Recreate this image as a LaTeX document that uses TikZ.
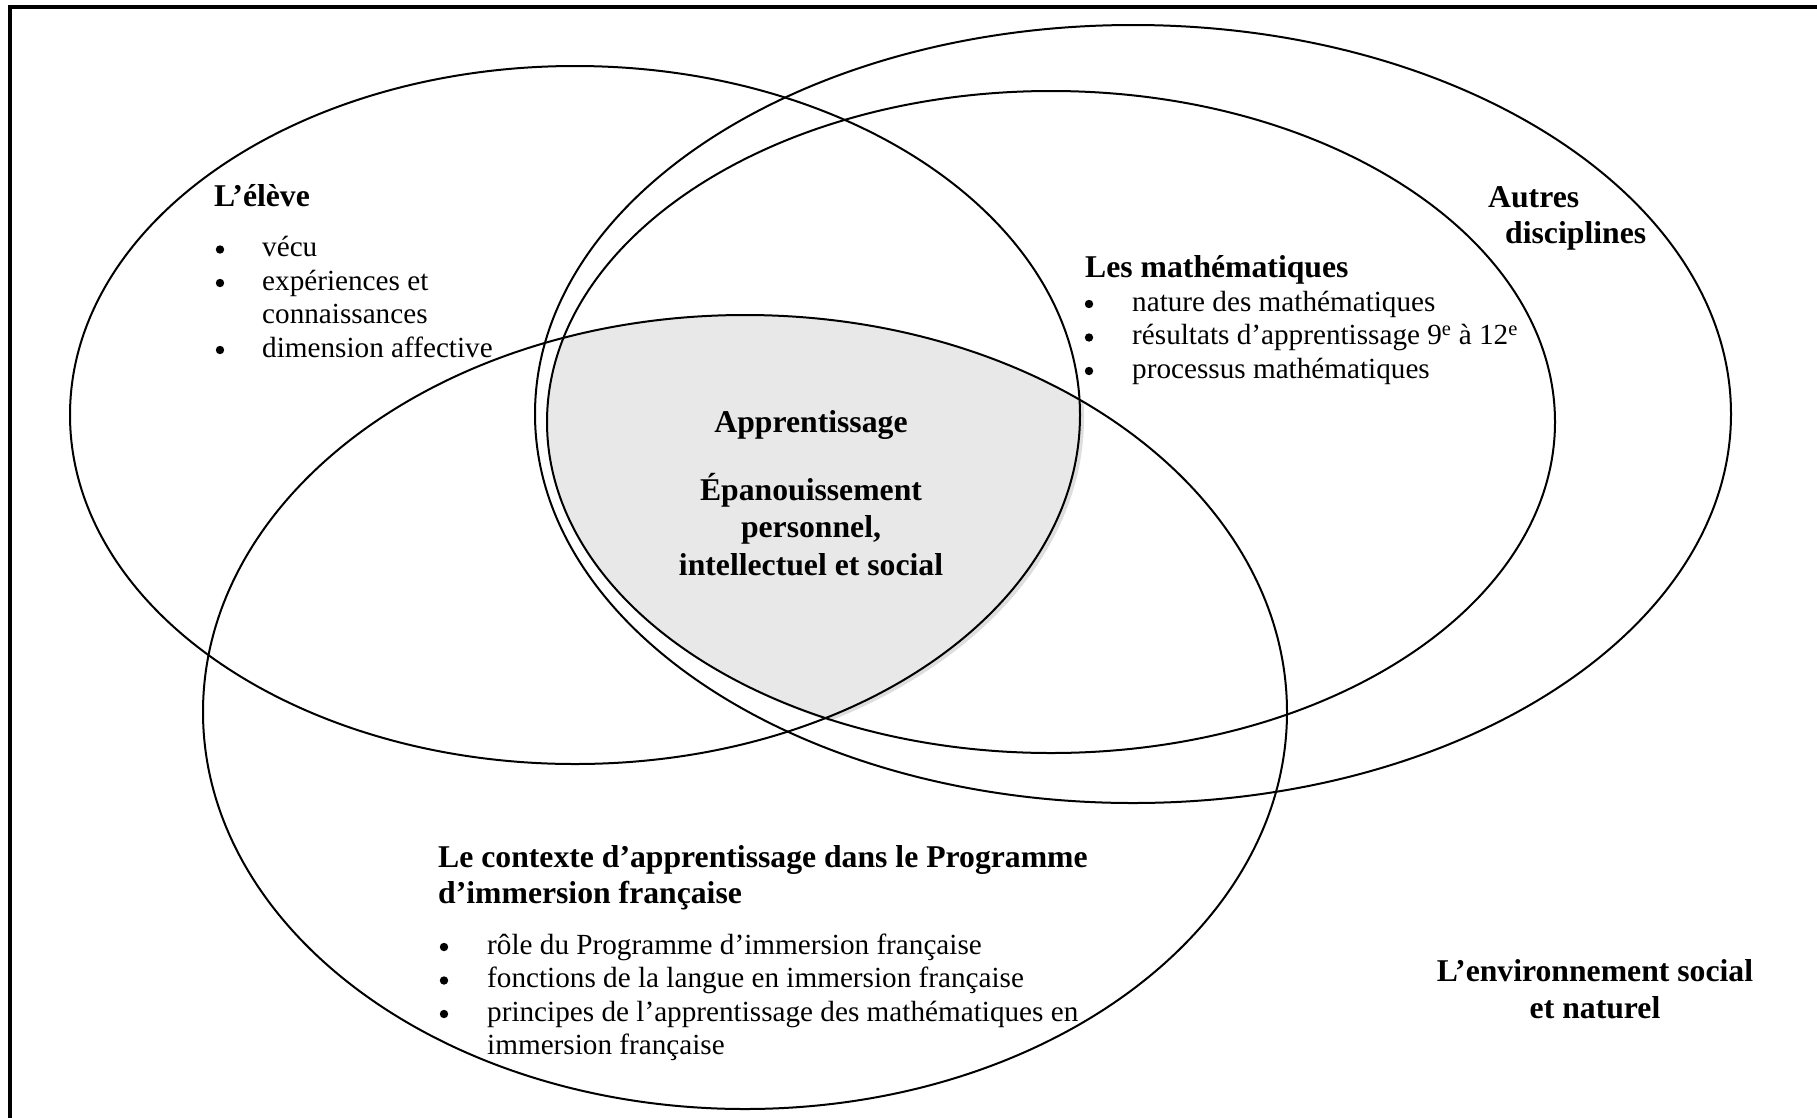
\documentclass[tikz,border=0pt]{standalone}
\usepackage{fontspec}
\setmainfont{Liberation Serif}
\begin{document}
\begin{tikzpicture}[x=1pt,y=-1pt,
  ell/.style={line width=2pt},
  body/.style={inner sep=0pt, font=\fontsize{29.2}{33.6}\selectfont, anchor=base west},
  head/.style={inner sep=0pt, font=\fontsize{31.7}{36.5}\selectfont\bfseries, anchor=base west},
  headc/.style={inner sep=0pt, font=\fontsize{31.7}{36.5}\selectfont\bfseries, anchor=base},
  bul/.style={circle, fill=black, inner sep=0pt, minimum size=8.4pt, yshift=7pt},
]
\useasboundingbox (0,0) rectangle (1817,1117);
\clip (0,0) rectangle (1817,1117);
% frame
\draw[line width=4pt] (10,7) rectangle (1900,1200);
% shaded core (shadow then fill)
\begin{scope}[shift={(4,3)}]
  \clip (575,415) ellipse [x radius=505, y radius=349];
  \clip (1051,422) ellipse [x radius=504, y radius=331];
  \fill[black!13] (745,712) ellipse [x radius=542, y radius=397];
\end{scope}
\begin{scope}
  \clip (575,415) ellipse [x radius=505, y radius=349];
  \clip (1051,422) ellipse [x radius=504, y radius=331];
  \fill[black!9] (745,712) ellipse [x radius=542, y radius=397];
\end{scope}
% ellipses
\draw[ell] (575,415) ellipse [x radius=505, y radius=349];
\draw[ell] (1051,422) ellipse [x radius=504, y radius=331];
\draw[ell] (1133,414) ellipse [x radius=598, y radius=389];
\draw[ell] (745,712) ellipse [x radius=542, y radius=397];

% L'eleve
\node[head] (eleve) at (214,206) {L’élève};
\node[bul] (eb1) at (220,256.5) {};
\node[body] (et1) at (262,256.5) {vécu};
\node[bul] (eb2) at (220,290) {};
\node[body] (et2) at (262,290) {expériences et};
\node[body] (et3) at (262,323.5) {connaissances};
\node[bul] (eb4) at (220,357) {};
\node[body] (et4) at (262,357) {dimension affective};

% Mathematiques
\node[head] (math) at (1085,277) {Les mathématiques};
\node[bul] (mb1) at (1089,311) {};
\node[body] (mt1) at (1132,311) {nature des mathématiques};
\node[bul] (mb2) at (1089,344.5) {};
\node[body] (mt2) at (1132,344.5) {résultats d’apprentissage 9\textsuperscript{e} à 12\textsuperscript{e}};
\node[bul] (mb3) at (1089,378) {};
\node[body] (mt3) at (1132,378) {processus mathématiques};

% Autres disciplines
\node[head] (autres1) at (1488,207) {Autres};
\node[head] (autres2) at (1505,243) {disciplines};

% centre
\node[headc] (app) at (811,432) {Apprentissage};
\node[headc] (epa1) at (811,500) {Épanouissement};
\node[headc] (epa2) at (811,537.5) {personnel,};
\node[headc] (epa3) at (811,575) {intellectuel et social};

% Contexte
\node[head] (ctx1) at (438,867) {Le contexte d’apprentissage dans le Programme};
\node[head] (ctx2) at (438,903) {d’immersion française};
\node[bul] (cb1) at (444,954) {};
\node[body] (ct1) at (487,954) {rôle du Programme d’immersion française};
\node[bul] (cb2) at (444,987.5) {};
\node[body] (ct2) at (487,987.5) {fonctions de la langue en immersion française};
\node[bul] (cb3) at (444,1021) {};
\node[body] (ct3) at (487,1021) {principes de l’apprentissage des mathématiques en};
\node[body] (ct4) at (487,1054.5) {immersion française};

% Environnement
\node[headc] (env1) at (1595,981) {L’environnement social};
\node[headc] (env2) at (1595,1018) {et naturel};
\end{tikzpicture}
\end{document}
